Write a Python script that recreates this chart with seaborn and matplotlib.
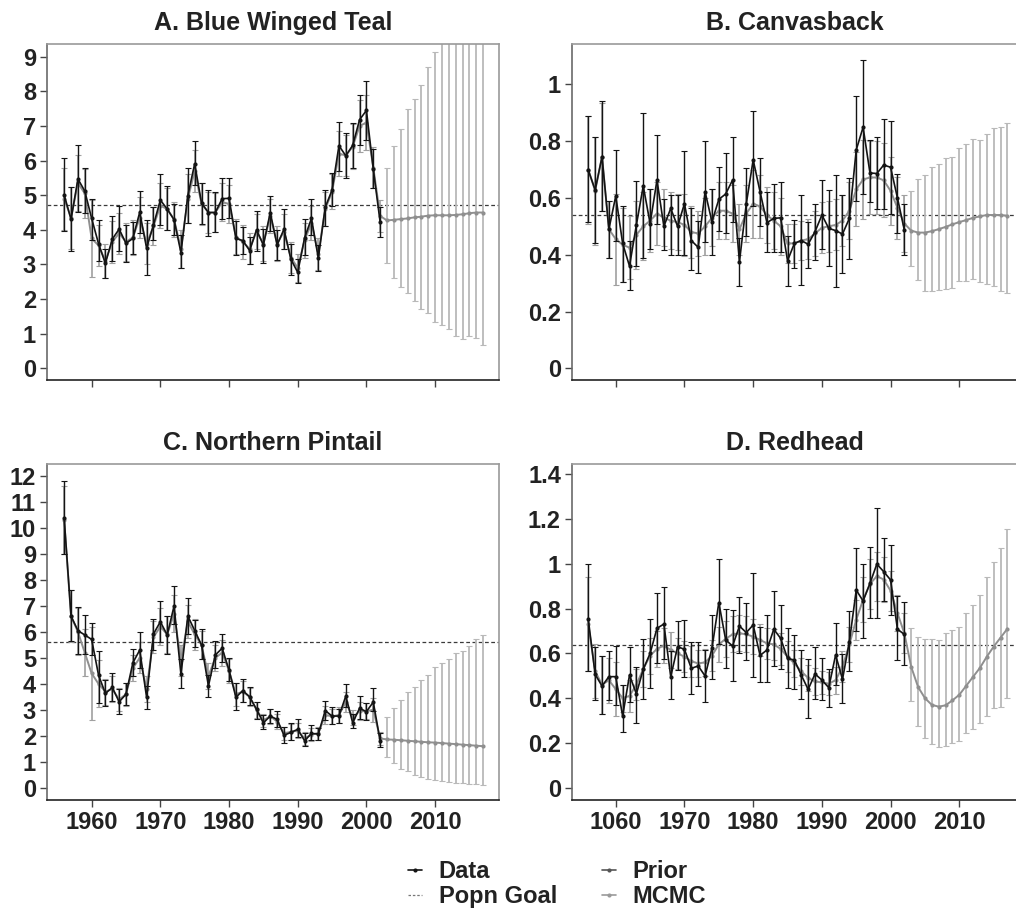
import numpy as np
import pandas as pd
import matplotlib
matplotlib.use("Agg")
import matplotlib.pyplot as plt
from matplotlib.lines import Line2D
import seaborn as sns

# ---------------- data ----------------
years_obs = list(range(1956, 2003))
years_fc = list(range(2003, 2018))

titles = ["A. Blue Winged Teal", "B. Canvasback", "C. Northern Pintail", "D. Redhead"]
goals = [4.72, 0.54, 5.6, 0.636]

A_data = [5.01,4.30,5.47,5.12,4.33,3.60,3.03,3.73,4.02,3.61,3.75,4.51,3.47,4.14,4.86,4.60,4.29,3.34,4.99,5.91,4.77,4.50,4.50,4.90,4.91,3.75,3.69,3.40,4.00,3.56,4.50,3.56,4.02,3.15,2.77,3.77,4.33,3.18,4.65,5.15,6.43,6.14,6.44,7.18,7.45,5.75,4.22]
A_lo = [3.97,3.40,4.52,4.50,3.70,3.10,2.62,3.10,3.38,3.08,3.30,3.90,2.70,3.70,4.15,4.00,3.85,2.90,4.20,5.30,4.18,3.83,3.93,4.30,4.33,3.27,3.30,3.00,3.40,3.04,3.96,3.12,3.45,2.70,2.45,3.27,3.85,2.82,4.10,4.70,5.70,5.50,5.80,6.45,6.60,5.20,3.78]
A_hi = [6.07,5.25,6.44,5.78,4.90,4.27,3.45,4.40,4.68,4.15,4.22,5.12,4.27,4.65,5.60,5.27,4.75,3.85,5.78,6.58,5.35,5.15,5.10,5.50,5.50,4.25,4.08,3.78,4.53,4.03,4.98,4.00,4.60,3.58,3.15,4.30,4.88,3.55,5.15,5.65,7.13,6.80,7.10,7.90,8.30,6.35,4.65]
A_mcmc = [4.90,4.35,5.35,5.05,3.75,3.55,3.10,3.65,3.90,3.65,3.78,4.35,3.60,4.10,4.70,4.60,4.30,3.45,4.90,5.70,4.75,4.50,4.50,4.80,4.75,3.80,3.65,3.45,3.95,3.60,4.40,3.60,3.95,3.20,2.90,3.70,4.20,3.30,4.60,5.10,6.20,6.15,6.40,7.00,7.10,5.80,4.40]
A_mcmc_err = [0.9,0.9,0.8,0.7,1.1,0.6,0.5,0.6,0.6,0.55,0.5,0.6,0.6,0.55,0.65,0.6,0.5,0.55,0.7,0.6,0.6,0.6,0.55,0.55,0.55,0.5,0.5,0.45,0.5,0.5,0.5,0.5,0.5,0.45,0.4,0.5,0.5,0.45,0.5,0.5,0.65,0.6,0.65,0.75,0.8,0.6,0.45]
A_fc = [4.27,4.29,4.31,4.33,4.36,4.38,4.41,4.42,4.42,4.42,4.43,4.45,4.48,4.50,4.50]
A_fc_lo = [3.05,2.60,2.35,2.18,1.93,1.72,1.60,1.35,1.25,1.12,0.93,0.85,0.93,0.88,0.66]
A_fc_hi = [5.80,6.42,6.90,7.48,7.78,8.18,8.70,9.15,10.5,11.0,11.5,12.0,12.5,13.0,13.5]

B_data = [0.698,0.628,0.745,0.490,0.607,0.440,0.360,0.505,0.642,0.510,0.663,0.500,0.563,0.500,0.580,0.450,0.426,0.622,0.516,0.595,0.614,0.663,0.375,0.580,0.734,0.622,0.513,0.528,0.530,0.379,0.440,0.450,0.437,0.481,0.540,0.493,0.485,0.473,0.528,0.769,0.849,0.688,0.686,0.716,0.708,0.600,0.487]
B_lo = [0.515,0.440,0.555,0.390,0.450,0.305,0.275,0.360,0.390,0.420,0.510,0.415,0.400,0.400,0.400,0.345,0.335,0.445,0.400,0.485,0.475,0.515,0.290,0.465,0.570,0.500,0.410,0.410,0.410,0.290,0.355,0.295,0.355,0.380,0.420,0.360,0.287,0.335,0.385,0.590,0.615,0.585,0.560,0.560,0.545,0.475,0.400]
B_hi = [0.887,0.815,0.940,0.590,0.770,0.570,0.450,0.660,0.900,0.630,0.820,0.595,0.610,0.610,0.765,0.565,0.520,0.800,0.630,0.710,0.757,0.815,0.460,0.705,0.905,0.742,0.620,0.650,0.655,0.465,0.523,0.610,0.516,0.577,0.662,0.628,0.680,0.610,0.670,0.960,1.087,0.805,0.815,0.877,0.870,0.685,0.578]
B_mcmc = [0.700,0.625,0.745,0.490,0.455,0.435,0.425,0.470,0.500,0.520,0.545,0.530,0.520,0.515,0.505,0.480,0.475,0.500,0.530,0.555,0.555,0.545,0.490,0.545,0.580,0.570,0.540,0.520,0.500,0.440,0.440,0.450,0.455,0.475,0.495,0.500,0.505,0.520,0.555,0.630,0.665,0.672,0.672,0.662,0.625,0.565,0.510]
B_mcmc_err = [0.19,0.19,0.19,0.10,0.16,0.13,0.11,0.12,0.12,0.11,0.11,0.10,0.10,0.10,0.11,0.09,0.08,0.10,0.10,0.10,0.10,0.10,0.09,0.10,0.12,0.11,0.10,0.10,0.10,0.07,0.07,0.07,0.07,0.08,0.09,0.09,0.09,0.09,0.10,0.13,0.14,0.13,0.13,0.13,0.12,0.11,0.10]
B_fc = [0.485,0.478,0.478,0.483,0.490,0.498,0.507,0.515,0.522,0.530,0.535,0.540,0.540,0.540,0.537]
B_fc_lo = [0.360,0.310,0.272,0.272,0.275,0.280,0.283,0.307,0.307,0.313,0.305,0.298,0.290,0.272,0.265]
B_fc_hi = [0.623,0.667,0.680,0.708,0.718,0.740,0.745,0.775,0.790,0.808,0.805,0.825,0.847,0.850,0.863]

C_data = [10.37,6.61,6.05,5.88,5.71,4.34,3.63,3.86,3.31,3.60,4.81,5.30,3.48,5.92,6.39,5.88,7.00,4.36,6.61,6.05,5.49,3.92,5.11,5.37,4.53,3.48,3.74,3.50,3.02,2.50,2.76,2.63,2.02,2.13,2.25,1.81,2.09,2.07,2.97,2.76,2.76,3.53,2.50,3.06,2.93,3.30,1.80]
C_lo = [9.00,5.65,5.15,5.15,5.10,3.27,3.15,3.35,2.85,3.20,4.30,4.60,3.05,5.30,5.60,5.15,6.30,3.85,5.90,5.40,4.95,3.50,4.60,4.85,4.10,3.00,3.30,3.20,2.65,2.27,2.50,2.35,1.72,1.85,1.95,1.60,1.85,1.85,2.62,2.45,2.50,3.10,2.30,2.65,2.62,2.95,1.58]
C_hi = [11.80,7.60,6.95,6.65,6.35,5.25,4.15,4.40,3.80,4.05,5.35,5.98,3.90,6.50,7.20,6.60,7.75,4.95,7.30,6.45,6.10,4.35,5.65,5.92,5.00,4.05,4.18,3.88,3.30,2.80,3.05,2.95,2.35,2.50,2.65,2.10,2.40,2.30,3.35,3.12,3.05,3.98,2.85,3.55,3.25,3.85,2.10]
C_mcmc = [10.30,6.60,6.00,5.20,4.40,4.00,3.70,3.80,3.40,3.60,4.60,5.00,3.80,5.80,6.20,5.90,6.70,4.90,6.40,5.90,5.50,4.30,5.00,5.20,4.50,3.60,3.70,3.50,3.00,2.60,2.75,2.55,2.10,2.15,2.20,1.90,2.05,2.10,2.80,2.75,2.80,3.30,2.70,2.95,2.95,3.00,1.90]
C_mcmc_err = [1.3,1.0,0.9,0.9,1.8,0.9,0.5,0.5,0.45,0.45,0.5,0.6,0.5,0.6,0.7,0.7,0.7,0.6,0.65,0.6,0.55,0.5,0.5,0.5,0.45,0.45,0.4,0.35,0.3,0.25,0.28,0.3,0.25,0.3,0.3,0.25,0.25,0.25,0.35,0.3,0.3,0.4,0.3,0.35,0.3,0.45,0.25]
C_fc = [1.86,1.85,1.83,1.81,1.79,1.77,1.75,1.74,1.72,1.70,1.68,1.66,1.64,1.62,1.60]
C_fc_lo = [1.19,0.94,0.74,0.65,0.51,0.42,0.33,0.30,0.27,0.22,0.19,0.17,0.15,0.13,0.09]
C_fc_hi = [2.71,3.06,3.38,3.67,3.89,4.15,4.34,4.63,4.79,4.96,5.17,5.28,5.47,5.71,5.88]

D_data = [0.752,0.506,0.454,0.496,0.496,0.320,0.503,0.419,0.529,0.600,0.712,0.731,0.496,0.630,0.618,0.533,0.544,0.499,0.623,0.827,0.660,0.633,0.722,0.693,0.727,0.591,0.615,0.708,0.667,0.578,0.570,0.503,0.439,0.508,0.481,0.447,0.593,0.484,0.652,0.883,0.834,0.913,0.999,0.965,0.928,0.708,0.685]
D_lo = [0.520,0.390,0.330,0.390,0.370,0.250,0.385,0.290,0.395,0.445,0.555,0.575,0.395,0.525,0.495,0.420,0.455,0.385,0.485,0.640,0.535,0.475,0.600,0.570,0.495,0.470,0.470,0.545,0.530,0.445,0.440,0.395,0.310,0.395,0.390,0.360,0.460,0.380,0.520,0.700,0.670,0.760,0.760,0.835,0.770,0.570,0.550]
D_hi = [1.000,0.630,0.590,0.610,0.635,0.460,0.630,0.540,0.665,0.755,0.870,0.895,0.610,0.745,0.750,0.652,0.652,0.615,0.770,1.020,0.800,0.795,0.850,0.825,0.960,0.720,0.770,0.880,0.815,0.715,0.680,0.615,0.575,0.630,0.580,0.530,0.735,0.595,0.790,1.070,1.000,1.075,1.250,1.115,1.085,0.855,0.830]
D_mcmc = [0.730,0.520,0.460,0.480,0.440,0.400,0.410,0.460,0.530,0.590,0.620,0.635,0.615,0.600,0.585,0.565,0.555,0.560,0.590,0.640,0.665,0.685,0.690,0.685,0.675,0.660,0.645,0.640,0.620,0.585,0.555,0.520,0.490,0.475,0.470,0.465,0.480,0.540,0.640,0.750,0.840,0.910,0.945,0.930,0.880,0.780,0.690]
D_mcmc_err = [0.21,0.12,0.13,0.10,0.12,0.06,0.07,0.07,0.08,0.08,0.08,0.08,0.08,0.07,0.07,0.07,0.06,0.06,0.07,0.08,0.08,0.08,0.08,0.08,0.08,0.07,0.07,0.07,0.07,0.07,0.06,0.06,0.06,0.06,0.05,0.05,0.06,0.07,0.08,0.09,0.10,0.11,0.11,0.10,0.09,0.08,0.09]
D_fc = [0.540,0.450,0.400,0.370,0.362,0.368,0.390,0.415,0.455,0.495,0.535,0.585,0.630,0.670,0.710]
D_fc_lo = [0.387,0.276,0.220,0.194,0.180,0.188,0.198,0.209,0.243,0.260,0.287,0.322,0.357,0.362,0.400]
D_fc_hi = [0.712,0.675,0.663,0.666,0.660,0.690,0.705,0.720,0.779,0.816,0.861,0.943,1.010,1.070,1.154]

yticks_A = [0, 1, 2, 3, 4, 5, 6, 7, 8, 9]
yticks_B = [0, 0.2, 0.4, 0.6, 0.8, 1.0]
yticks_C = list(range(0, 13))
yticks_D = [0, 0.2, 0.4, 0.6, 0.8, 1.0, 1.2, 1.4]
ylabels_A = [str(v) for v in yticks_A]
ylabels_B = ["0", "0.2", "0.4", "0.6", "0.8", "1"]
ylabels_C = [str(v) for v in yticks_C]
ylabels_D = ["0", "0.2", "0.4", "0.6", "0.8", "1", "1.2", "1.4"]
xticks = [1960, 1970, 1980, 1990, 2000, 2010]
xlabels_C = ["1960", "1970", "1980", "1990", "2000", "2010"]
xlabels_D = ["1060", "1970", "1980", "1990", "2000", "2010"]

# ---------------- style ----------------
sns.set_theme(style="white")
plt.rcParams["font.family"] = ["Liberation Sans", "DejaVu Sans"]
plt.rcParams["font.weight"] = "bold"

W, H = 1016, 914
fig = plt.figure(figsize=(W / 100, H / 100), dpi=100)

def add_ax(l, t, r, b):
    return fig.add_axes([l / W, 1 - b / H, (r - l) / W, (b - t) / H])

panels = [
    dict(box=(47, 44, 499, 380), xlim=(1953.5, 2019.3), ylim=(-0.34, 9.37),
         data=A_data, lo=A_lo, hi=A_hi, mcmc=A_mcmc, merr=A_mcmc_err, fc=A_fc, fclo=A_fc_lo, fchi=A_fc_hi,
         yt=yticks_A, yl=ylabels_A, xl=None),
    dict(box=(572, 44, 1017, 380), xlim=(1953.63, 2018.4), ylim=(-0.041, 1.142),
         data=B_data, lo=B_lo, hi=B_hi, mcmc=B_mcmc, merr=B_mcmc_err, fc=B_fc, fclo=B_fc_lo, fchi=B_fc_hi,
         yt=yticks_B, yl=ylabels_B, xl=None),
    dict(box=(47, 464, 499, 800), xlim=(1953.5, 2019.3), ylim=(-0.47, 12.46),
         data=C_data, lo=C_lo, hi=C_hi, mcmc=C_mcmc, merr=C_mcmc_err, fc=C_fc, fclo=C_fc_lo, fchi=C_fc_hi,
         yt=yticks_C, yl=ylabels_C, xl=xlabels_C),
    dict(box=(572, 464, 1017, 800), xlim=(1953.63, 2018.4), ylim=(-0.055, 1.446),
         data=D_data, lo=D_lo, hi=D_hi, mcmc=D_mcmc, merr=D_mcmc_err, fc=D_fc, fclo=D_fc_lo, fchi=D_fc_hi,
         yt=yticks_D, yl=ylabels_D, xl=xlabels_D),
]

c_data = "#141414"
c_mcmc = "#8f8f8f"
c_mcmc_err = "#a0a0a0"
c_fc_err = "#b9b9b9"

for p, title, goal in zip(panels, titles, goals):
    ax = add_ax(*p["box"])
    ax.set_facecolor("white")
    obs = np.array(p["data"])
    lo = np.array(p["lo"])
    hi = np.array(p["hi"])
    m_hist = np.array(p["mcmc"])
    merr = np.array(p["merr"])
    fc = np.array(p["fc"])
    fclo = np.array(p["fclo"])
    fchi = np.array(p["fchi"])

    # MCMC error bars (history and projection)
    ax.errorbar(years_obs, m_hist, yerr=[merr, merr], fmt="none", ecolor=c_mcmc_err,
                elinewidth=1.2, capsize=2, capthick=0.8, zorder=1)
    ax.errorbar(years_fc, fc, yerr=[fc - fclo, fchi - fc], fmt="none", ecolor=c_fc_err,
                elinewidth=1.3, capsize=2, capthick=0.8, zorder=1)

    mdf = pd.DataFrame({"year": years_obs + years_fc, "value": np.concatenate([m_hist, fc])})
    sns.lineplot(data=mdf, x="year", y="value", ax=ax, color=c_mcmc, lw=1.4,
                 marker="o", markersize=3, markeredgewidth=0, zorder=2)

    # Observed data
    ax.errorbar(years_obs, obs, yerr=[obs - lo, hi - obs], fmt="none", ecolor=c_data,
                elinewidth=1.0, capsize=2, capthick=0.8, zorder=3)
    ddf = pd.DataFrame({"year": years_obs, "value": obs})
    sns.lineplot(data=ddf, x="year", y="value", ax=ax, color=c_data, lw=1.2,
                 marker="o", markersize=3, markeredgewidth=0, zorder=4)

    ax.axhline(goal, color="#3a3a3a", lw=0.9, ls=(0, (3, 2)), zorder=0)

    ax.set_xlim(*p["xlim"])
    ax.set_ylim(*p["ylim"])
    ax.set_xlabel("")
    ax.set_ylabel("")
    ax.set_yticks(p["yt"])
    ax.set_yticklabels(p["yl"], fontsize=17, fontweight="bold", color="#222222")
    ax.set_xticks(xticks)
    if p["xl"] is None:
        ax.set_xticklabels([])
    else:
        ax.set_xticklabels(p["xl"], fontsize=17, fontweight="bold", color="#222222")
    ax.tick_params(axis="both", direction="out", length=5, width=1, color="#444444",
                   bottom=True, left=True, pad=3)
    ax.grid(False)
    for s in ["top", "right"]:
        ax.spines[s].set_color("#9a9a9a")
        ax.spines[s].set_linewidth(1.2)
    ax.spines["left"].set_color("#6a6a6a")
    ax.spines["left"].set_linewidth(1.2)
    ax.spines["bottom"].set_color("#222222")
    ax.spines["bottom"].set_linewidth(1.2)
    ax.set_title(title, fontsize=18, fontweight="bold", color="#222222", pad=10)
    if ax.get_legend() is not None:
        ax.get_legend().remove()

handles = [
    Line2D([], [], color=c_data, lw=1.2, marker="o", markersize=3, markeredgewidth=0),
    Line2D([], [], color="#777777", lw=0.9, ls=(0, (2, 1.5))),
    Line2D([], [], color="#555555", lw=1.2, marker="o", markersize=3, markeredgewidth=0),
    Line2D([], [], color="#9a9a9a", lw=1.2, marker="o", markersize=3, markeredgewidth=0),
]
labels = ["Data", "Popn Goal", "Prior", "MCMC"]
leg = fig.legend(handles, labels, ncol=2, loc="upper left", bbox_to_anchor=(408 / W, 1 - 860 / H),
                 frameon=False, fontsize=17, handlelength=0.6, handletextpad=0.7,
                 columnspacing=1.9, labelspacing=0.1, borderpad=0, borderaxespad=0)
for t in leg.get_texts():
    t.set_fontweight("bold")
    t.set_color("#222222")

fig.savefig("out.png", dpi=100, facecolor="white")
